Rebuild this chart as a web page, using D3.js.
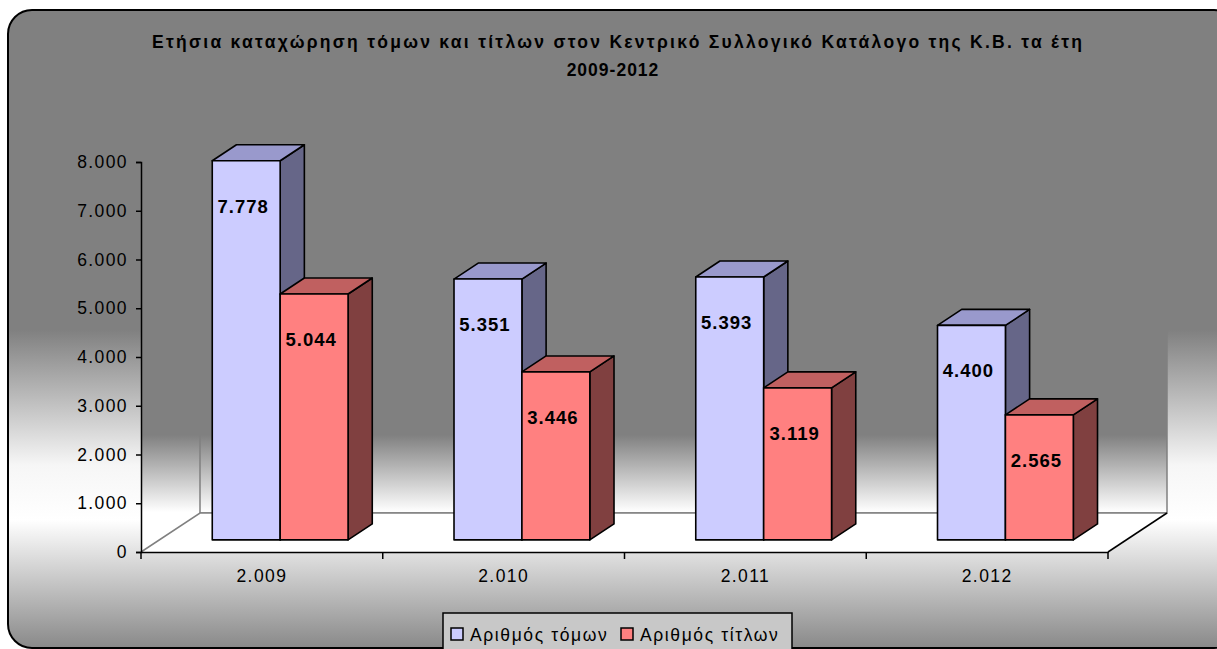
<!DOCTYPE html>
<html><head><meta charset="utf-8">
<script src="https://cdn.jsdelivr.net/npm/d3@7"></script>
<style>
html,body{margin:0;padding:0;background:#fff;}
svg{display:block;font-family:"Liberation Sans",Arial,sans-serif;}
</style></head>
<body>
<svg id="chart" width="1217" height="649"></svg>
<script>
const titleLines = ["Ετήσια καταχώρηση τόμων και τίτλων στον Κεντρικό Συλλογικό Κατάλογο της Κ.Β. τα έτη", "2009-2012"];
const categories = ["2.009", "2.010", "2.011", "2.012"];
const seriesNames = ["Αριθμός τόμων", "Αριθμός τίτλων"];
const volumes = [7778, 5351, 5393, 4400];
const titles = [5044, 3446, 3119, 2565];
const yTicks = [0, 1000, 2000, 3000, 4000, 5000, 6000, 7000, 8000];

const seriesValues = [volumes, titles];
const palette = [
  {front:"#CCCCFF", top:"#9999CC", side:"#666688"},
  {front:"#FF8080", top:"#C06060", side:"#804040"}
];

const svg = d3.select("#chart");
const defs = svg.append("defs");
const loc = d3.formatLocale({decimal:",", thousands:".", grouping:[3], currency:["","€"]});
const fmt = loc.format(",");
const FONT = "'Liberation Sans',Arial,sans-serif";

// geometry
const x0 = 141, x1 = 1108, yBase = 552, yTop = 162;
const depth = {dx:59, dy:-39};
const dFront = 0.31, dBack = 0.72;

const y = d3.scaleLinear().domain([0, 8000]).range([yBase, yTop]);
const x = d3.scaleBand().domain(categories).range([x0, x1]).paddingInner(0).paddingOuter(0);
const xs = d3.scaleBand().domain(seriesNames).range([0, x.bandwidth()]).paddingInner(0).paddingOuter(0.78);

// gradients
const bg = defs.append("linearGradient").attr("id","bg").attr("gradientUnits","userSpaceOnUse")
  .attr("x1",0).attr("y1",0).attr("x2",0).attr("y2",649);
[[0,"#808080"],[330/649,"#808080"],[465/649,"#f6f6f6"],[520/649,"#ffffff"],[1,"#888888"]]
  .forEach(s=>bg.append("stop").attr("offset",s[0]).attr("stop-color",s[1]));
const wg = defs.append("linearGradient").attr("id","wall").attr("gradientUnits","userSpaceOnUse")
  .attr("x1",0).attr("y1",0).attr("x2",0).attr("y2",649);
[[0,"#808080"],[435/649,"#808080"],[512/649,"#ffffff"],[1,"#ffffff"]]
  .forEach(s=>wg.append("stop").attr("offset",s[0]).attr("stop-color",s[1]));

// outer frame
svg.append("rect").attr("x",8).attr("y",10).attr("width",1230).attr("height",638)
  .attr("rx",24).attr("ry",24).attr("fill","url(#bg)").attr("stroke","#000").attr("stroke-width",2);

// walls
const P = (xx, v, d) => [xx + depth.dx*d, y(v) + depth.dy*d];
const wallBack = [P(x0,0,1), P(x1,0,1), P(x1,8000,1), P(x0,8000,1)];
const wallSide = [P(x0,0,0), P(x0,0,1), P(x0,8000,1), P(x0,8000,0)];
const poly = pts => "M" + pts.map(p=>p.join(",")).join("L") + "Z";
svg.append("path").attr("d", poly(wallSide)).attr("fill","url(#wall)").attr("stroke","none");
svg.append("path").attr("d", poly(wallBack)).attr("fill","url(#wall)").attr("stroke","none");
svg.append("path").attr("d", "M"+P(x0,8000,1).join(",")+"L"+P(x0,0,1).join(",")+"L"+P(x1,0,1).join(",")+"L"+P(x1,8000,1).join(","))
  .attr("fill","none").attr("stroke","#808080").attr("stroke-width",1.5);
// floor
const floor = [P(x0,0,0), P(x1,0,0), P(x1,0,1), P(x0,0,1)];
svg.append("path").attr("d", poly(floor)).attr("fill","#fff").attr("stroke","none");
svg.append("path").attr("d","M"+P(x0,0,0).join(",")+"L"+P(x0,0,1).join(",")+"L"+P(x1,0,1).join(","))
  .attr("fill","none").attr("stroke","#808080").attr("stroke-width",1.5);
svg.append("path").attr("d","M"+P(x1,0,0).join(",")+"L"+P(x1,0,1).join(","))
  .attr("fill","none").attr("stroke","#000").attr("stroke-width",1.5);

// axes
const yAxis = d3.axisLeft(y).tickValues(yTicks).tickFormat(fmt).tickSize(5).tickPadding(8);
const gy = svg.append("g").attr("transform",`translate(${x0},0)`).call(yAxis);
gy.select(".domain").attr("stroke","#000").attr("stroke-width",1.5);
gy.selectAll(".tick line").attr("stroke","#000").attr("stroke-width",1.5);
gy.selectAll(".tick text").attr("font-size","17.5px").attr("fill","#000").attr("letter-spacing","1.4px")
  .attr("font-family",FONT);

const xAxis = d3.axisBottom(x).tickSize(0).tickPadding(18);
const gx = svg.append("g").attr("transform",`translate(0,${yBase})`).call(xAxis);
gx.select(".domain").attr("stroke","#000").attr("stroke-width",1.5);
gx.selectAll(".tick text").attr("font-size","17.5px").attr("fill","#000").attr("letter-spacing","1.4px")
  .attr("font-family",FONT);
const bounds = categories.map(c=>x(c)).concat([x1]);
gx.selectAll(".sep").data(bounds).enter().append("line")
  .attr("x1",d=>d).attr("x2",d=>d).attr("y1",0).attr("y2",7).attr("stroke","#000").attr("stroke-width",1.5);

// bars
const barW = xs.bandwidth();
categories.forEach((c, ci) => {
  seriesNames.forEach((s, si) => {
    const v = seriesValues[si][ci];
    const bx = x(c) + xs(s);
    const col = palette[si];
    const fbl = P(bx,0,dFront), fbr = P(bx+barW,0,dFront), ftr = P(bx+barW,v,dFront), ftl = P(bx,v,dFront);
    const bbr = P(bx+barW,0,dBack), btr = P(bx+barW,v,dBack), btl = P(bx,v,dBack);
    const g = svg.append("g").attr("stroke","#000").attr("stroke-width",1.6).attr("stroke-linejoin","round");
    g.append("path").attr("d", poly([fbr,bbr,btr,ftr])).attr("fill", col.side);
    g.append("path").attr("d", poly([ftl,ftr,btr,btl])).attr("fill", col.top);
    g.append("path").attr("d", poly([fbl,fbr,ftr,ftl])).attr("fill", col.front);
    svg.append("text").attr("x", (fbl[0]+fbr[0])/2 - 3).attr("y", ftl[1] + 52)
      .attr("text-anchor","middle").attr("font-weight","bold").attr("font-size","18.5px")
      .attr("letter-spacing","1px").attr("fill","#000").text(fmt(v));
  });
});

// title
svg.append("text").attr("x",617).attr("y",48).attr("text-anchor","middle")
  .attr("font-weight","bold").attr("font-size","17.5px").attr("fill","#000")
  .attr("textLength",930).attr("lengthAdjust","spacing").text(titleLines[0]);
svg.append("text").attr("x",613).attr("y",76).attr("text-anchor","middle")
  .attr("font-weight","bold").attr("font-size","17.5px").attr("fill","#000")
  .attr("letter-spacing","1px").text(titleLines[1]);

// legend
const lg = svg.append("g");
lg.append("rect").attr("x",443).attr("y",613).attr("width",349).attr("height",45)
  .attr("fill","#c8c8c8").attr("stroke","#000").attr("stroke-width",1.5);
const legX = [451, 621];
seriesNames.forEach((s, i) => {
  lg.append("rect").attr("x",legX[i]).attr("y",628).attr("width",12).attr("height",12)
    .attr("fill",palette[i].front).attr("stroke","#000").attr("stroke-width",1.5);
  lg.append("text").attr("x",legX[i]+19).attr("y",641).attr("font-size","17.5px")
    .attr("letter-spacing","1.6px").attr("fill","#000").text(s);
});
</script>
</body></html>
